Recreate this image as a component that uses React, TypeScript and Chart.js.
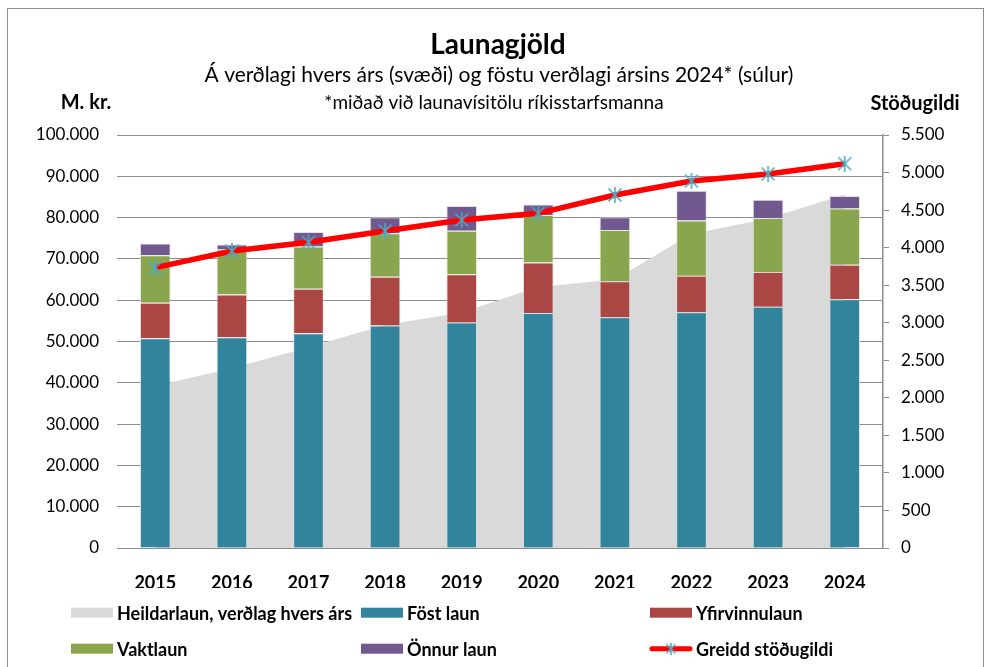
import React, { useEffect, useRef } from 'react';
import { Chart, registerables } from 'chart.js';

Chart.register(...registerables);

const years = ['2015', '2016', '2017', '2018', '2019', '2020', '2021', '2022', '2023', '2024'];
const heildarlaun = [39200, 43500, 48600, 54000, 57000, 63200, 65000, 76000, 79800, 85600];
const fostLaun = [50800, 51000, 52000, 53900, 54600, 56900, 55900, 57100, 58400, 60200];
const yfirvinnulaun = [8600, 10400, 10800, 11800, 11700, 12200, 8700, 8800, 8400, 8400];
const vaktlaun = [11500, 10900, 10200, 10500, 10500, 11500, 12400, 13400, 13100, 13600];
const onnurLaun = [2800, 1200, 3500, 3900, 6000, 2600, 3100, 7200, 4400, 3000];
const stodugildi = [3733, 3955, 4071, 4222, 4368, 4457, 4701, 4887, 4981, 5118];

const titleText = 'Launagjöld';
const subtitle1 = 'Á verðlagi hvers árs (svæði) og föstu verðlagi ársins 2024* (súlur)';
const subtitle2 = '*miðað við launavísitölu ríkisstarfsmanna';
const leftAxisTitle = 'M. kr.';
const rightAxisTitle = 'Stöðugildi';

const FONT = 'Lato, Calibri, Carlito, sans-serif';

function fmt(v: number): string {
  return Math.round(v).toString().replace(/\B(?=(\d{3})+(?!\d))/g, '.');
}

function makeStar(size: number, color: string): HTMLCanvasElement {
  const c = document.createElement('canvas');
  c.width = size;
  c.height = size;
  const g = c.getContext('2d')!;
  g.strokeStyle = color;
  g.lineWidth = 1.6;
  const h = size / 2;
  g.beginPath();
  g.moveTo(1.5, 1.5);
  g.lineTo(size - 1.5, size - 1.5);
  g.moveTo(size - 1.5, 1.5);
  g.lineTo(1.5, size - 1.5);
  g.moveTo(h, 0);
  g.lineTo(h, size);
  g.stroke();
  return c;
}

export default function App() {
  const ref = useRef<HTMLCanvasElement | null>(null);

  useEffect(() => {
    document.body.style.margin = '0';
    const star = makeStar(16, '#4BACC6');
    const legendStar = makeStar(12, '#4BACC6');

    const decor = {
      id: 'decor',
      beforeDraw(chart: any) {
        const ctx = chart.ctx;
        ctx.save();
        ctx.fillStyle = '#ffffff';
        ctx.fillRect(0, 0, chart.width, chart.height);
        ctx.strokeStyle = '#8c8c8c';
        ctx.lineWidth = 1;
        ctx.strokeRect(7.5, 8.5, 976, 700);
        ctx.restore();
      },
      afterDraw(chart: any) {
        const ctx = chart.ctx;
        ctx.save();
        ctx.fillStyle = '#000';
        ctx.textAlign = 'center';
        ctx.textBaseline = 'alphabetic';
        ctx.font = `bold 28px ${FONT}`;
        ctx.fillText(titleText, 498, 54);
        ctx.font = `21px ${FONT}`;
        ctx.fillText(subtitle1, 499, 82);
        ctx.font = `19px ${FONT}`;
        ctx.fillText(subtitle2, 494, 109);
        ctx.font = `bold 20px ${FONT}`;
        ctx.fillText(leftAxisTitle, 86, 109);
        ctx.fillText(rightAxisTitle, 915, 110);

        // legend
        const ds = chart.data.datasets;
        const cols = [71, 361, 650];
        const rows = [612.7, 648.7];
        ctx.textAlign = 'left';
        ctx.textBaseline = 'middle';
        ctx.font = `bold 18px ${FONT}`;
        ds.forEach((d: any, i: number) => {
          const x = cols[i % 3];
          const y = rows[Math.floor(i / 3)];
          if (d.type === 'line' && d.yAxisID === 'y1') {
            ctx.strokeStyle = d.borderColor;
            ctx.lineWidth = 5;
            ctx.lineCap = 'round';
            ctx.beginPath();
            ctx.moveTo(x + 2, y);
            ctx.lineTo(x + 40, y);
            ctx.stroke();
            ctx.drawImage(legendStar, x + 21 - 6, y - 6);
          } else {
            ctx.fillStyle = d.backgroundColor;
            ctx.fillRect(x, y - 5, 42, 10);
          }
          ctx.fillStyle = '#000';
          ctx.fillText(d.label, x + 46, y + 1);
        });
        ctx.restore();
      },
    };

    const tickFont = { family: FONT, size: 17 };
    const chart = new Chart(ref.current!, {
      type: 'bar',
      data: {
        labels: years,
        datasets: [
          {
            type: 'line',
            label: 'Heildarlaun, verðlag hvers árs',
            data: heildarlaun,
            yAxisID: 'y',
            stack: 'area',
            fill: 'origin',
            backgroundColor: '#D9D9D9',
            borderColor: '#D9D9D9',
            borderWidth: 0,
            pointRadius: 0,
            tension: 0,
            order: 10,
          },
          {
            type: 'bar',
            label: 'Föst laun',
            data: fostLaun,
            yAxisID: 'y',
            stack: 'bars',
            backgroundColor: '#31849B',
            borderColor: 'rgba(210,225,230,0.7)',
            borderWidth: 1,
            order: 5,
          },
          {
            type: 'bar',
            label: 'Yfirvinnulaun',
            data: yfirvinnulaun,
            yAxisID: 'y',
            stack: 'bars',
            backgroundColor: '#AA4643',
            borderColor: 'rgba(230,210,210,0.7)',
            borderWidth: 1,
            order: 5,
          },
          {
            type: 'bar',
            label: 'Vaktlaun',
            data: vaktlaun,
            yAxisID: 'y',
            stack: 'bars',
            backgroundColor: '#89A54E',
            borderColor: 'rgba(220,230,210,0.7)',
            borderWidth: 1,
            order: 5,
          },
          {
            type: 'bar',
            label: 'Önnur laun',
            data: onnurLaun,
            yAxisID: 'y',
            stack: 'bars',
            backgroundColor: '#71588F',
            borderColor: 'rgba(220,210,230,0.7)',
            borderWidth: 1,
            order: 5,
          },
          {
            type: 'line',
            label: 'Greidd stöðugildi',
            data: stodugildi,
            yAxisID: 'y1',
            borderColor: '#FF0000',
            backgroundColor: '#FF0000',
            borderWidth: 5.5,
            pointStyle: star as any,
            pointRadius: 8,
            fill: false,
            tension: 0,
            order: 0,
          },
        ] as any,
      },
      options: {
        animation: false,
        responsive: true,
        maintainAspectRatio: false,
        layout: { padding: { top: 135, bottom: 79, left: 0, right: 0 } },
        plugins: {
          legend: { display: false },
          title: { display: false },
          tooltip: { enabled: false },
        },
        datasets: { bar: { categoryPercentage: 0.8, barPercentage: 0.5 } },
        scales: {
          x: {
            stacked: true,
            grid: { display: false },
            border: { display: false },
            ticks: { font: { family: FONT, size: 18, weight: 'bold' }, color: '#000', padding: 16 },
            afterFit: (s: any) => { s.height = 40; },
          },
          y: {
            stacked: true,
            min: 0,
            max: 100000,
            ticks: { stepSize: 10000, font: tickFont, color: '#000', padding: 18, callback: (v: any) => fmt(Number(v)) },
            grid: { color: '#8c8c8c', drawTicks: false, lineWidth: 1 },
            border: { display: false },
            afterFit: (s: any) => { s.width = 117; },
          },
          y1: {
            position: 'right',
            min: 0,
            max: 5500,
            ticks: { stepSize: 500, font: tickFont, color: '#000', padding: 12, callback: (v: any) => fmt(Number(v)) },
            grid: { drawOnChartArea: false, drawTicks: true, tickLength: 6, color: '#8c8c8c' },
            border: { display: true, color: '#8c8c8c', width: 1.5 },
            afterFit: (s: any) => { s.width = 105; },
          },
        },
      } as any,
      plugins: [decor],
    });
    return () => chart.destroy();
  }, []);

  return (
    <div style={{ width: 988, height: 667, position: 'relative' }}>
      <canvas ref={ref} />
    </div>
  );
}
